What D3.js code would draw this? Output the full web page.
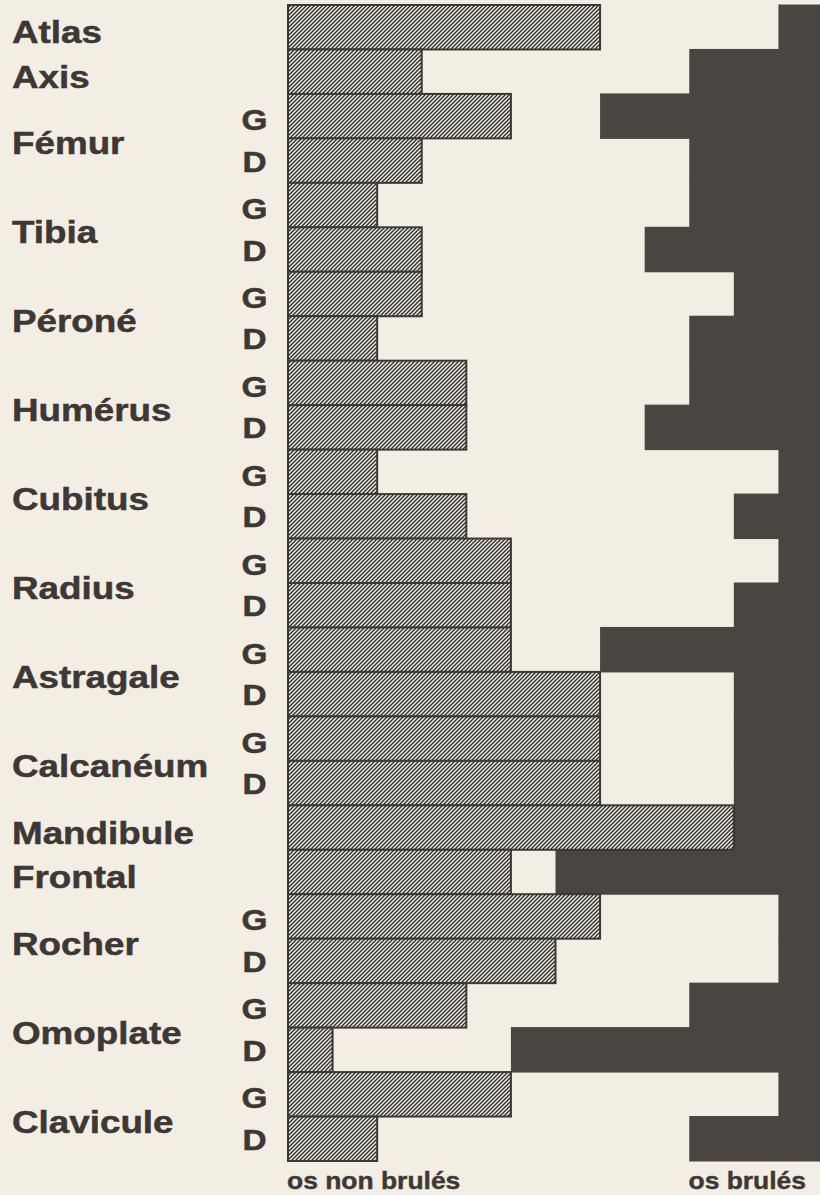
<!DOCTYPE html>
<html>
<head>
<meta charset="utf-8">
<script src="https://cdn.jsdelivr.net/npm/d3@7"></script>
<style>
    html, body { margin: 0; padding: 0; background: #f2eee3; }
    svg { display: block; }
</style>
</head>
<body>
<svg class="os-chart"></svg>
<script>
// one row per bar, G = gauche, D = droit ('' for single bones)
const bones = ['Atlas', 'Axis', 'Fémur', 'Fémur', 'Tibia', 'Tibia', 'Péroné', 'Péroné',
    'Humérus', 'Humérus', 'Cubitus', 'Cubitus', 'Radius', 'Radius', 'Astragale', 'Astragale',
    'Calcanéum', 'Calcanéum', 'Mandibule', 'Frontal', 'Rocher', 'Rocher',
    'Omoplate', 'Omoplate', 'Clavicule', 'Clavicule'];
const sides = ['', '', 'G', 'D', 'G', 'D', 'G', 'D', 'G', 'D', 'G', 'D', 'G', 'D', 'G', 'D',
    'G', 'D', '', '', 'G', 'D', 'G', 'D', 'G', 'D'];

// counts
const nonBrules = [7, 3, 5, 3, 2, 3, 3, 2, 4, 4, 2, 4, 5, 5, 5, 7, 7, 7, 10, 5, 7, 6, 4, 1, 5, 2];
const brules = [1, 3, 5, 3, 3, 4, 2, 3, 3, 4, 1, 2, 1, 2, 5, 2, 2, 2, 2, 6, 1, 1, 3, 7, 1, 3];

const axisMax = 12;
const legendLabels = ['os non brulés', 'os brulés'];

const ink = '#3d3835';
const burnt = '#4a4541';

function drawChart() {
    const width = 820;
    const height = 1195;
    const stretch = 1.15; // the printed type is wider than Liberation Sans

    const rows = bones.map((b, i) => ({ id: i, bone: b, side: sides[i], nb: nonBrules[i], b: brules[i] }));

    const x = d3.scaleLinear()
        .domain([0, axisMax])
        .range([288, 823]);

    const y = d3.scaleBand()
        .domain(rows.map(d => d.id))
        .range([5, 1161])
        .padding(0);

    const svg = d3.select('svg.os-chart')
        .attr('width', width)
        .attr('height', height);

    svg.append('rect')
        .attr('width', width)
        .attr('height', height)
        .attr('fill', '#f2eee3');

    // hatch pattern for the unburnt bones, "/" lines every 4px
    const pattern = svg.append('defs').append('pattern')
        .attr('id', 'hatch')
        .attr('patternUnits', 'userSpaceOnUse')
        .attr('width', 4)
        .attr('height', 4);
    pattern.append('rect')
        .attr('width', 4)
        .attr('height', 4)
        .attr('fill', '#e8eae1');
    pattern.append('path')
        .attr('d', 'M-1,1 L1,-1 M0,4 L4,0 M3,5 L5,3')
        .attr('stroke', '#302c29')
        .attr('stroke-width', 1.3);

    // burnt bones, growing from the right edge
    svg.append('g')
        .selectAll('rect')
        .data(rows)
        .enter().append('rect')
        .attr('x', d => x(axisMax - d.b))
        .attr('y', d => y(d.id) - 0.5)
        .attr('width', d => x(axisMax) - x(axisMax - d.b))
        .attr('height', y.bandwidth() + 1)
        .attr('fill', burnt);

    // unburnt bones, from the left
    svg.append('g')
        .selectAll('rect')
        .data(rows)
        .enter().append('rect')
        .attr('x', x(0))
        .attr('y', d => y(d.id))
        .attr('width', d => x(d.nb) - x(0))
        .attr('height', y.bandwidth())
        .attr('fill', 'url(#hatch)')
        .attr('stroke', ink)
        .attr('stroke-width', 2);

    const labelFont = "'Liberation Sans', Arial, Helvetica, sans-serif";

    // bone names, centred on their one or two rows
    const groups = d3.groups(rows, d => d.bone);
    svg.append('g')
        .selectAll('text')
        .data(groups)
        .enter().append('text')
        .attr('transform', ([name, rs]) => {
            const top = y(rs[0].id);
            const bottom = y(rs[rs.length - 1].id) + y.bandwidth();
            return `translate(12,${(top + bottom) / 2 + 16}) scale(${stretch},1)`;
        })
        .attr('font-family', labelFont)
        .attr('font-weight', 'bold')
        .attr('font-size', 32)
        .attr('fill', ink)
        .attr('stroke', ink)
        .attr('stroke-width', 0.5)
        .text(d => d[0]);

    // G / D letters
    svg.append('g')
        .selectAll('text')
        .data(rows.filter(d => d.side))
        .enter().append('text')
        .attr('transform', d => `translate(254.5,${y(d.id) + y.bandwidth() / 2 + (d.side == 'G' ? 14 : 11)}) scale(${stretch},1)`)
        .attr('text-anchor', 'middle')
        .attr('font-family', labelFont)
        .attr('font-weight', 'bold')
        .attr('font-size', 29)
        .attr('fill', ink)
        .attr('stroke', ink)
        .attr('stroke-width', 0.5)
        .text(d => d.side);

    // legend under the bars
    svg.append('text')
        .attr('transform', `translate(${x(0) - 1},1189) scale(${stretch},1)`)
        .attr('font-family', labelFont)
        .attr('font-weight', 'bold')
        .attr('font-size', 23)
        .attr('fill', ink)
        .attr('stroke', ink)
        .attr('stroke-width', 0.4)
        .text(legendLabels[0]);
    svg.append('text')
        .attr('transform', `translate(806,1189) scale(${stretch},1)`)
        .attr('text-anchor', 'end')
        .attr('font-family', labelFont)
        .attr('font-weight', 'bold')
        .attr('font-size', 23)
        .attr('fill', ink)
        .attr('stroke', ink)
        .attr('stroke-width', 0.4)
        .text(legendLabels[1]);
}

drawChart();
</script>
</body>
</html>
